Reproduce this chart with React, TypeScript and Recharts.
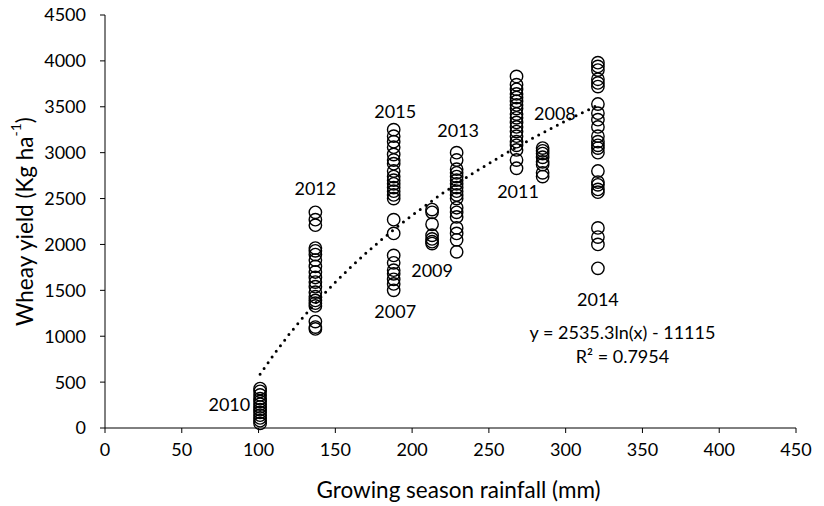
import React from 'react';
import { ScatterChart, Scatter, XAxis, YAxis, ReferenceDot } from 'recharts';

// Growing season rainfall (mm) per season
const seasons = ['2010', '2012', '2015', '2007', '2009', '2013', '2011', '2008', '2014'];
const rainfall = [101, 137, 188, 188, 213, 229, 268, 285, 321];

// Wheat yield (kg/ha) read per season
const y2010 = [430, 400, 360, 320, 290, 260, 230, 200, 170, 140, 110, 80, 50];
const y2012 = [2350, 2270, 2210, 1960, 1930, 1890, 1830, 1760, 1700, 1640, 1590, 1540, 1480, 1430, 1390, 1360, 1330, 1160, 1100, 1080];
const y2015 = [3250, 3180, 3120, 3060, 2980, 2920, 2880, 2800, 2740, 2700, 2660, 2620, 2580, 2540, 2500, 2270, 2120];
const y2007 = [1880, 1800, 1720, 1680, 1620, 1570, 1500];
const y2009 = [2380, 2350, 2220, 2100, 2060, 2030, 2010];
const y2013 = [3000, 2920, 2820, 2780, 2740, 2700, 2660, 2620, 2580, 2540, 2500, 2400, 2350, 2300, 2180, 2120, 2050, 1920];
const y2011 = [3830, 3740, 3690, 3640, 3600, 3560, 3520, 3480, 3420, 3380, 3330, 3280, 3230, 3180, 3120, 3080, 3030, 2920, 2830];
const y2008 = [3050, 3020, 2990, 2950, 2900, 2870, 2780, 2740];
const y2014 = [3980, 3940, 3900, 3800, 3760, 3720, 3530, 3430, 3360, 3280, 3180, 3120, 3080, 3050, 3000, 2800, 2680, 2650, 2600, 2570, 2180, 2080, 2000, 1740];

// Log trendline points (y = 2535.3ln(x) - 11115)
const trendX = [101, 110, 120, 130, 140, 150, 160, 170, 180, 190, 200, 220, 240, 260, 280, 300, 321];
const trendY = [586, 802, 1023, 1226, 1414, 1589, 1752, 1906, 2051, 2188, 2318, 2560, 2780, 2983, 3171, 3346, 3518];

// Season labels placed near their clusters (data coords)
const labelText = ['2010', '2012', '2015', '2007', '2009', '2013', '2011', '2008', '2014'];
const labelX = [81, 137, 189, 189, 213, 230, 269, 293, 321];
const labelY = [250, 2603, 3450, 1264, 1710, 3235, 2571, 3431, 1400];

const xTicks = [0, 50, 100, 150, 200, 250, 300, 350, 400, 450];
const yTicks = [0, 500, 1000, 1500, 2000, 2500, 3000, 3500, 4000, 4500];

const yieldSets = [y2010, y2012, y2015, y2007, y2009, y2013, y2011, y2008, y2014];
const points = seasons.flatMap((s, i) => yieldSets[i].map(v => ({ x: rainfall[i], y: v, season: s })));
const trend = trendX.map((x, i) => ({ x, y: trendY[i] }));

const FONT = 'Lato, "Open Sans", sans-serif';

const Ring = (props: any) => (
  <circle cx={props.cx} cy={props.cy} r={6.2} fill="none" stroke="#000" strokeWidth={1.4} />
);

const YTitle = (props: any) => {
  const vb = props.viewBox || { x: 0, y: 15, width: 105, height: 413 };
  const cx = 24;
  const cy = vb.y + vb.height / 2;
  return (
    <text
      x={cx}
      y={cy}
      transform={`rotate(-90 ${cx} ${cy})`}
      textAnchor="middle"
      dominantBaseline="central"
      fontFamily={FONT}
      fontSize={22.5}
      fill="#000"
    >
      Wheay yield (Kg ha<tspan fontSize={14} dy={-9}>-1</tspan>
      <tspan dy={9}>)</tspan>
    </text>
  );
};

const XTitle = (props: any) => {
  const vb = props.viewBox || { x: 105, y: 428, width: 691, height: 78 };
  return (
    <text
      x={vb.x + vb.width / 2 + 8}
      y={vb.y + 70}
      textAnchor="middle"
      fontFamily={FONT}
      fontSize={22.5}
      fill="#000"
    >
      Growing season rainfall (mm)
    </text>
  );
};

export default function App() {
  return (
    <div style={{ position: 'absolute', left: 0, top: 0, width: 824, height: 506, background: '#fff' }}>
      <ScatterChart width={824} height={506} margin={{ top: 15, right: 28, bottom: 0, left: 0 }}>
        <XAxis
          type="number"
          dataKey="x"
          domain={[0, 450]}
          ticks={xTicks}
          interval={0}
          height={78}
          tickSize={5}
          tickMargin={10}
          stroke="#000"
          tick={{ fill: '#000', fontSize: 18, fontFamily: FONT }}
          label={<XTitle />}
        />
        <YAxis
          type="number"
          dataKey="y"
          domain={[0, 4500]}
          ticks={yTicks}
          interval={0}
          width={105}
          tickSize={5}
          tickMargin={14}
          stroke="#000"
          tick={{ fill: '#000', fontSize: 18, fontFamily: FONT }}
          label={<YTitle />}
        />
        <Scatter data={points} shape={<Ring />} isAnimationActive={false} />
        <Scatter
          data={trend}
          shape={() => null}
          line={{ stroke: '#000', strokeWidth: 3, strokeDasharray: '0 7', strokeLinecap: 'round' }}
          isAnimationActive={false}
        />
        {labelText.map((t, i) => (
          <ReferenceDot
            key={t}
            x={labelX[i]}
            y={labelY[i]}
            r={0}
            stroke="none"
            fill="none"
            ifOverflow="visible"
            label={{ value: t, position: 'center', fill: '#000', fontSize: 18, fontFamily: FONT }}
          />
        ))}
        <ReferenceDot
          x={337}
          y={1035}
          r={0}
          stroke="none"
          fill="none"
          label={{ value: 'y = 2535.3ln(x) - 11115', position: 'center', fill: '#000', fontSize: 18, fontFamily: FONT }}
        />
        <ReferenceDot
          x={337}
          y={774}
          r={0}
          stroke="none"
          fill="none"
          label={{ value: 'R² = 0.7954', position: 'center', fill: '#000', fontSize: 18, fontFamily: FONT }}
        />
      </ScatterChart>
    </div>
  );
}
